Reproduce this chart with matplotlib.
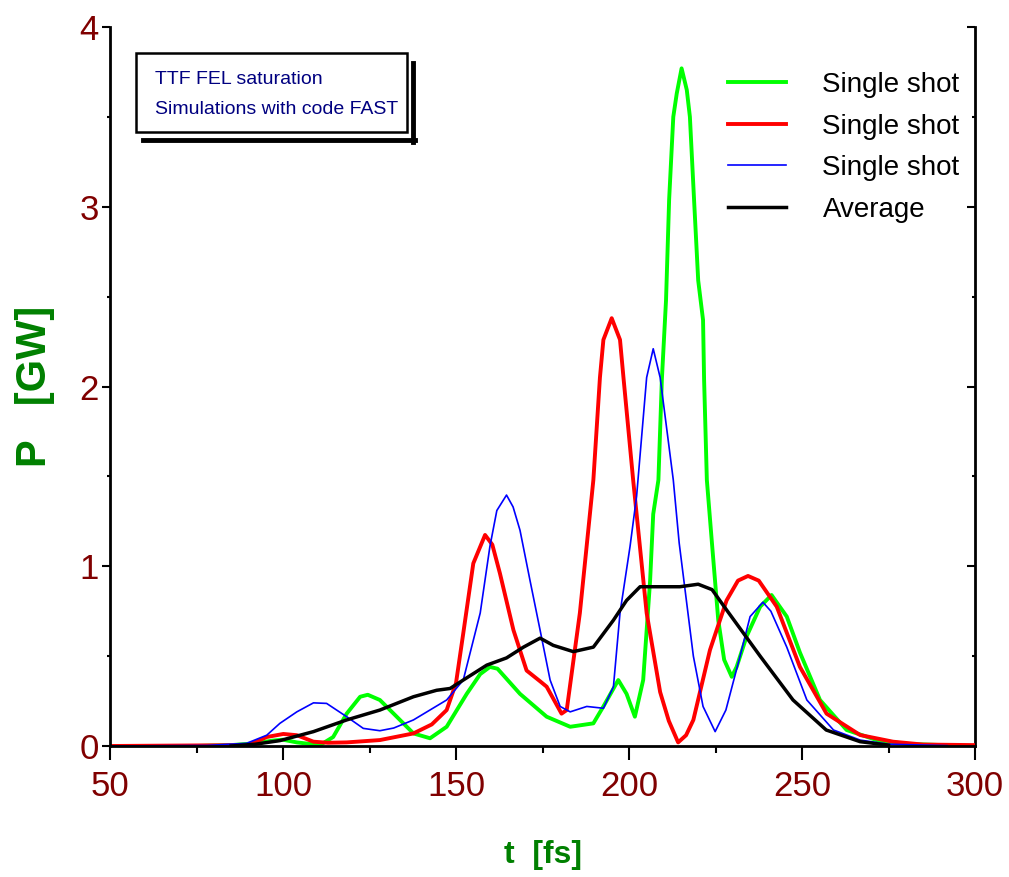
import matplotlib
matplotlib.use("Agg")
import matplotlib.pyplot as plt
from matplotlib.lines import Line2D
from matplotlib.patches import Rectangle
from matplotlib.ticker import MultipleLocator

plt.rcParams['font.family'] = ['Liberation Sans', 'DejaVu Sans']

# ---- data ----
t_green = [75, 85, 92, 97, 100, 104, 110.7, 114.5, 118.4, 122.3, 124.5, 128, 132.5, 137.7,
           142.5, 147.3, 153.1, 157, 159.8, 162, 168.5, 176.2, 183, 189.7, 192.6, 196.9,
           199.3, 201.7, 204.1, 206.1, 207, 208.5, 209.5, 210.7, 211.6, 212.8, 213.8, 215.2,
           216.7, 217.6, 218.8, 220, 221.4, 221.7, 222.5, 223.9, 225.8, 227.5, 229.7, 231.1,
           234, 237.9, 241.2, 245.6, 249.4, 255.2, 262.9, 271.6, 280, 293.6]
p_green = [0.0, 0.005, 0.015, 0.03, 0.035, 0.02, 0.005, 0.05, 0.18, 0.274, 0.285, 0.256, 0.17, 0.07,
           0.043, 0.107, 0.29, 0.40, 0.44, 0.43, 0.29, 0.163, 0.107, 0.126, 0.22, 0.367,
           0.29, 0.163, 0.367, 0.92, 1.29, 1.48, 2.04, 2.48, 3.04, 3.50, 3.63, 3.77,
           3.65, 3.50, 3.04, 2.59, 2.37, 2.04, 1.48, 1.146, 0.70, 0.48, 0.385, 0.44,
           0.61, 0.775, 0.84, 0.72, 0.52, 0.256, 0.089, 0.033, 0.012, 0.003]

t_red = [50, 90, 95.3, 100.1, 104, 108.8, 113, 118.4, 128, 137.7, 143, 147.3, 150, 152.1,
         155, 158.4, 160.5, 162.7, 166.6, 170.4, 174.3, 176.2, 178.5, 180.5, 182, 185.8,
         188.7, 189.7, 191.6, 192.6, 195, 197.4, 198.4, 201.2, 205.1, 209, 211.5, 214.2,
         216.5, 218.6, 223.4, 228.2, 231.5, 234.4, 237.5, 242.7, 249.4, 257.1, 266.8,
         276.3, 285, 300]
p_red = [0.0, 0.005, 0.05, 0.067, 0.06, 0.024, 0.018, 0.02, 0.033, 0.07, 0.12, 0.20, 0.35, 0.627,
         1.016, 1.174, 1.12, 0.96, 0.645, 0.42, 0.36, 0.33, 0.25, 0.18, 0.20, 0.74,
         1.29, 1.48, 2.05, 2.26, 2.38, 2.26, 2.05, 1.48, 0.74, 0.30, 0.14, 0.02,
         0.06, 0.145, 0.534, 0.81, 0.92, 0.946, 0.92, 0.775, 0.44, 0.18, 0.061,
         0.024, 0.008, 0.005]

t_blue = [50, 78, 89.5, 95.3, 99.1, 104, 108.8, 112.6, 118.4, 123.2, 128, 132, 137.7, 147.3,
          152.1, 157, 159.8, 161.8, 164.6, 166.5, 168.5, 171.4, 174.3, 177.2, 180.1, 183,
          187.8, 192.6, 195.5, 197.4, 200.3, 202.2, 205.1, 207, 209, 212.8, 214.5, 218.6,
          221.4, 224.9, 228, 232.1, 235, 238.7, 241, 245.6, 251.4, 259.1, 266.8, 275, 292]
p_blue = [0.0, 0.003, 0.015, 0.06, 0.126, 0.19, 0.24, 0.237, 0.163, 0.098, 0.085, 0.10, 0.145, 0.256,
          0.367, 0.74, 1.11, 1.31, 1.396, 1.33, 1.20, 0.92, 0.645, 0.367, 0.22, 0.19,
          0.22, 0.21, 0.33, 0.74, 1.11, 1.39, 2.05, 2.21, 2.05, 1.48, 1.13, 0.50,
          0.22, 0.08, 0.20, 0.50, 0.72, 0.80, 0.75, 0.55, 0.256, 0.089, 0.033, 0.01, 0.002]

t_avg = [85, 92, 99.1, 108.8, 118.4, 128, 137.7, 144.4, 148.3, 152.1, 158.9, 164.6, 169.5,
         174.3, 178.1, 183.9, 189.7, 195.5, 199.3, 203.2, 209, 214.7, 220, 224, 228.2,
         237.9, 247.4, 257, 266.8, 275]
p_avg = [0.0, 0.01, 0.03, 0.08, 0.145, 0.20, 0.274, 0.31, 0.32, 0.367, 0.45, 0.49, 0.55,
         0.60, 0.56, 0.525, 0.55, 0.70, 0.81, 0.886, 0.886, 0.886, 0.90, 0.87, 0.757,
         0.50, 0.256, 0.089, 0.024, 0.005]

labels = ["Single shot", "Single shot", "Single shot", "Average"]
note_lines = ["TTF FEL saturation", "Simulations with code FAST"]

W, H = 1009, 877
fig = plt.figure(figsize=(W / 100, H / 100), dpi=100)
ax = fig.add_axes([110 / W, 1 - 746 / H, 865 / W, 719 / H])

ax.plot(t_green, p_green, color="#00ff00", lw=2.8, label=labels[0])
ax.plot(t_red, p_red, color="#ff0000", lw=2.8, label=labels[1])
ax.plot(t_blue, p_blue, color="#0000ff", lw=1.2, label=labels[2])
ax.plot(t_avg, p_avg, color="#000000", lw=2.5, label=labels[3])

ax.set_xlim(50, 300)
ax.set_ylim(0, 4)
ax.xaxis.set_major_locator(MultipleLocator(50))
ax.xaxis.set_minor_locator(MultipleLocator(25))
ax.yaxis.set_major_locator(MultipleLocator(1))
ax.yaxis.set_minor_locator(MultipleLocator(0.5))

for s in ["left", "bottom"]:
    ax.spines[s].set_linewidth(2)
ax.spines["top"].set_visible(False)
ax.spines["right"].set_visible(False)

ax.tick_params(axis="x", which="major", direction="out", length=10, width=1.5,
               labelsize=25, labelcolor="#800000", pad=7)
ax.tick_params(axis="x", which="minor", direction="out", length=5, width=1.5)
ax.tick_params(axis="y", which="major", direction="out", length=6, width=1.5,
               labelsize=25, labelcolor="#800000", pad=2)
ax.tick_params(axis="y", which="minor", direction="out", length=2.5, width=1.5)

# right axis with inward ticks
ax2 = ax.secondary_yaxis("right")
ax2.spines["right"].set_linewidth(2)
ax2.yaxis.set_major_locator(MultipleLocator(1))
ax2.yaxis.set_minor_locator(MultipleLocator(0.5))
ax2.tick_params(axis="y", which="major", direction="in", length=6, width=1.5, labelright=False)
ax2.tick_params(axis="y", which="minor", direction="in", length=2.5, width=1.5)

ax.set_xlabel("t  [fs]", fontsize=23, fontweight="bold", color="#008000")
ax.xaxis.set_label_coords(0.5, (746 - 855) / 719)
ax.xaxis.label.set_va("center")
ax.set_ylabel("P   [GW]", fontsize=30, fontweight="bold", color="#008000")
ax.yaxis.set_label_coords((35 - 110) / 865, (746 - 386) / 719)
ax.yaxis.label.set_va("center")

ax.legend(loc="upper left", bbox_to_anchor=(728 / W, 1 - 72 / H),
          bbox_transform=fig.transFigure, frameon=False, fontsize=20,
          handlelength=2.1, handletextpad=1.3, labelspacing=0.56,
          borderpad=0, borderaxespad=0)

# annotation box with offset shadow
fig.add_artist(Line2D([143 / W, 415 / W], [1 - 140 / H, 1 - 140 / H],
                      color="black", lw=3.5, transform=fig.transFigure))
fig.add_artist(Line2D([412.5 / W, 412.5 / W], [1 - 63 / H, 1 - 142 / H],
                      color="black", lw=3.5, transform=fig.transFigure))
fig.add_artist(Rectangle((136 / W, 1 - 132 / H), 271 / W, 79 / H,
                         facecolor="white", edgecolor="black", lw=1.8,
                         transform=fig.transFigure))
fig.text(155 / W, 1 - 79 / H, note_lines[0], fontsize=14, color="#000080", va="center")
fig.text(155 / W, 1 - 110 / H, note_lines[1], fontsize=14, color="#000080", va="center")

fig.savefig("out.png", dpi=100)
